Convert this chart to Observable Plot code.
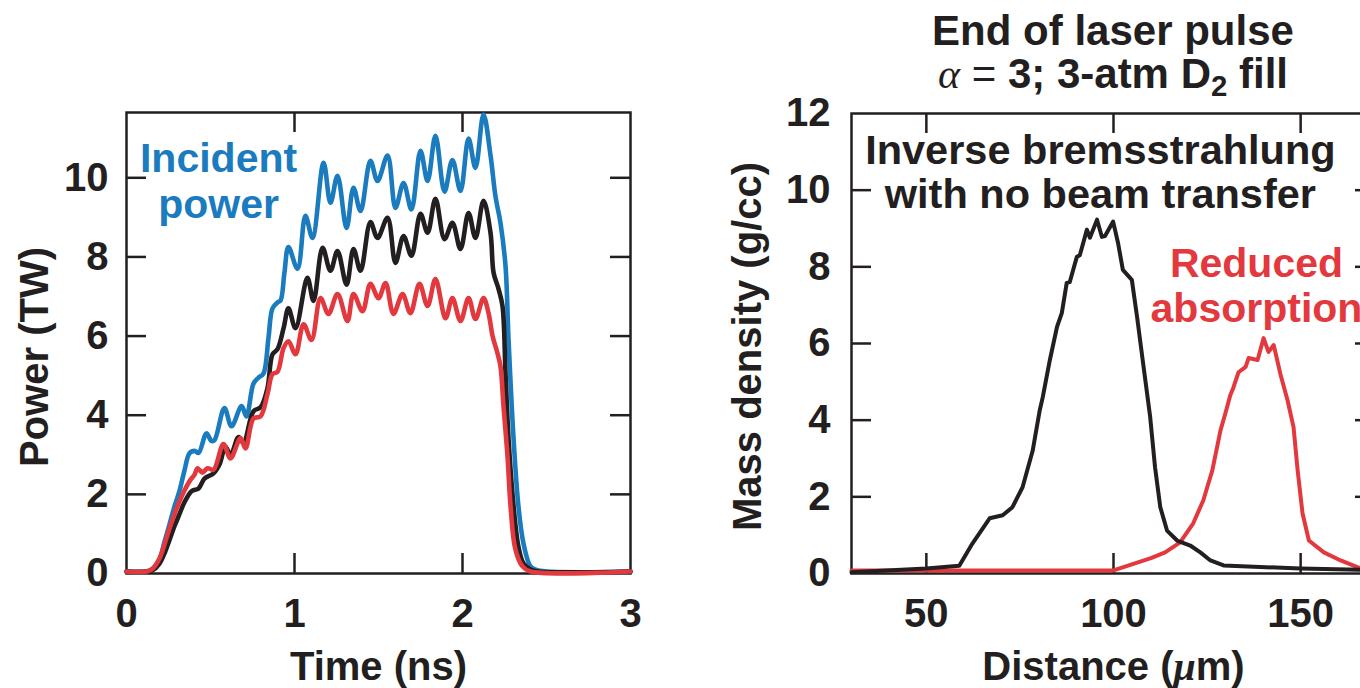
<!DOCTYPE html>
<html>
<head>
<meta charset="utf-8">
<script src="https://cdn.jsdelivr.net/npm/d3@7"></script>
<script src="https://cdn.jsdelivr.net/npm/@observablehq/plot@0.6"></script>
<style>
  html, body { margin: 0; padding: 0; background: #fff; width: 1360px; height: 688px; overflow: hidden; }
  #wrap { position: relative; width: 1360px; height: 688px; overflow: hidden; }
  #left { position: absolute; left: 0; top: 0; width: 680px; height: 688px; }
  #right { position: absolute; left: 680px; top: 0; width: 720px; height: 688px; }
  #left svg, #right svg { max-width: none !important; }
  #title { position: absolute; left: 813px; top: 9px; width: 600px; text-align: center;
           font-family: 'Liberation Sans', Arial, Helvetica, sans-serif; font-weight: bold;
           font-size: 42px; line-height: 43px; color: #231f20; }
  #title .greek { font-family: 'Liberation Serif', 'DejaVu Serif', serif; font-style: italic; font-weight: normal; }
  #title .thin { font-weight: normal; }
  #title sub { font-size: 0.7em; vertical-align: -0.28em; line-height: 0; }
</style>
</head>
<body>
<div id="wrap">
  <div id="left"></div>
  <div id="right"></div>
  <div id="title"></div>
</div>
<script>
// ---------------- Data: left panel (power vs time) ----------------
const timeIncident = [0, 0.119, 0.155, 0.196, 0.226, 0.256, 0.286, 0.315, 0.345, 0.375, 0.405, 0.429, 0.476, 0.506, 0.524, 0.583, 0.625, 0.685, 0.714, 0.756, 0.786, 0.815, 0.845, 0.869, 0.899, 0.917, 0.94, 0.964, 1.018, 1.065, 1.107, 1.173, 1.214, 1.256, 1.31, 1.351, 1.393, 1.452, 1.494, 1.554, 1.601, 1.649, 1.696, 1.75, 1.792, 1.839, 1.893, 1.94, 1.988, 2.036, 2.077, 2.125, 2.167, 2.196, 2.226, 2.256, 2.274, 2.304, 2.333, 2.363, 2.405, 2.446, 3];
const powerIncident = [0.05, 0.05, 0.12, 0.35, 0.8, 1.24, 1.7, 2.08, 2.6, 3.04, 3.1, 3.05, 3.54, 3.35, 3.37, 4.18, 3.72, 4.23, 3.97, 4.8, 4.95, 5.05, 5.95, 6.7, 6.85, 6.9, 7.6, 8.25, 7.7, 9.04, 8.48, 10.38, 9.37, 10.05, 8.73, 9.75, 9.16, 10.43, 9.92, 10.56, 9.24, 9.87, 9.2, 10.68, 9.92, 11.06, 9.65, 10.45, 9.67, 10.99, 10.25, 11.6, 10.56, 9.54, 8.86, 7.77, 5.92, 3.4, 1.7, 0.76, 0.18, 0.08, 0.05];

const timeIB = [0, 0.119, 0.155, 0.196, 0.23, 0.256, 0.286, 0.315, 0.345, 0.387, 0.429, 0.464, 0.518, 0.554, 0.589, 0.62, 0.667, 0.696, 0.756, 0.798, 0.839, 0.869, 0.899, 0.935, 0.964, 1.006, 1.077, 1.113, 1.167, 1.214, 1.256, 1.31, 1.351, 1.393, 1.452, 1.494, 1.554, 1.601, 1.649, 1.696, 1.75, 1.792, 1.839, 1.893, 1.94, 1.988, 2.036, 2.077, 2.125, 2.167, 2.185, 2.214, 2.238, 2.256, 2.274, 2.304, 2.333, 2.363, 2.405, 2.45, 3];
const powerIB = [0.05, 0.05, 0.08, 0.25, 0.55, 0.85, 1.2, 1.5, 1.8, 2.08, 2.15, 2.4, 2.53, 2.76, 3.2, 3.0, 3.45, 3.3, 4.1, 4.2, 4.68, 5.54, 5.67, 6.2, 6.7, 6.2, 7.47, 6.89, 8.23, 7.65, 8.15, 7.3, 8.2, 7.65, 8.88, 8.48, 8.99, 7.85, 8.53, 8.03, 9.09, 8.61, 9.47, 8.45, 8.86, 8.2, 9.11, 8.48, 9.42, 8.6, 7.6, 7.2, 6.76, 5.06, 3.4, 1.7, 0.68, 0.25, 0.1, 0.05, 0.05];

const timeReduced = [0, 0.119, 0.155, 0.196, 0.256, 0.315, 0.375, 0.405, 0.423, 0.452, 0.482, 0.518, 0.577, 0.619, 0.679, 0.708, 0.756, 0.798, 0.839, 0.869, 0.899, 0.935, 0.964, 1.006, 1.054, 1.101, 1.155, 1.202, 1.256, 1.315, 1.351, 1.405, 1.452, 1.5, 1.542, 1.589, 1.643, 1.69, 1.744, 1.792, 1.839, 1.899, 1.94, 1.988, 2.036, 2.077, 2.125, 2.155, 2.179, 2.208, 2.226, 2.244, 2.268, 2.286, 2.315, 2.357, 2.405, 3];
const powerReduced = [0.05, 0.05, 0.12, 0.38, 1.14, 1.82, 2.33, 2.5, 2.66, 2.55, 2.66, 2.62, 3.27, 2.91, 3.42, 3.16, 3.92, 3.97, 4.53, 5.04, 5.1, 5.7, 5.87, 5.54, 6.3, 5.9, 6.96, 6.56, 7.06, 6.38, 7.06, 6.63, 7.32, 6.96, 7.34, 6.56, 7.06, 6.58, 7.32, 6.76, 7.44, 6.45, 6.96, 6.38, 6.96, 6.43, 6.96, 6.58, 6.0, 5.57, 5.24, 4.23, 2.96, 1.7, 0.61, 0.18, 0.05, 0.05];

// ---------------- Data: right panel (mass density vs distance) ----------------
const distIB = [30, 50, 58.8, 62.3, 66.9, 70.4, 73, 75.7, 78.4, 80.3, 81.1, 83, 84.9, 86.2, 87.5, 88.3, 90.2, 91, 92.9, 93.7, 95.6, 96.9, 97.7, 99.9, 101.2, 102.5, 104.9, 106.3, 107.9, 109.8, 111.1, 112.5, 114.3, 117, 120.5, 123.2, 125.9, 129.4, 150, 166, 170];
const densityIB = [0.03, 0.13, 0.2, 0.78, 1.44, 1.52, 1.73, 2.25, 3.2, 4.26, 4.6, 5.57, 6.43, 6.8, 7.58, 7.6, 8.26, 8.3, 8.97, 8.76, 9.23, 8.78, 8.8, 9.18, 8.63, 7.92, 7.66, 6.69, 5.49, 4.08, 2.77, 1.73, 1.12, 0.86, 0.73, 0.55, 0.34, 0.21, 0.13, 0.1, 0.08];

const distReduced = [30, 100, 110, 113.8, 117.8, 121.3, 124, 126.4, 128.6, 129.9, 131.2, 132, 133.4, 135.3, 136.1, 138.5, 140.1, 141.4, 142.8, 144.6, 146.5, 148.1, 149.2, 150.5, 152.2, 156.2, 160.7, 165.3, 170];
const densityReduced = [0.08, 0.08, 0.4, 0.55, 0.81, 1.31, 1.91, 2.69, 3.74, 4.18, 4.65, 4.84, 5.25, 5.39, 5.62, 5.57, 6.14, 5.78, 5.96, 5.2, 4.52, 3.82, 2.69, 1.57, 0.86, 0.55, 0.34, 0.16, 0.08];

// ---------------- Ticks and texts ----------------
const leftXTicks = [0, 1, 2, 3];
const leftYTicks = [0, 2, 4, 6, 8, 10];
const rightXTicks = [50, 100, 150];
const rightYTicks = [0, 2, 4, 6, 8, 10, 12];

const leftXTitle = "Time (ns)";
const leftYTitle = "Power (TW)";
const rightXTitle = "Distance (\u03bcm)";
const rightYTitle = "Mass density (g/cc)";
const incidentLabel = "Incident\npower";
const ibLabel = "Inverse bremsstrahlung\nwith no beam transfer";
const reducedLabel = "Reduced\nabsorption";
const titleLine1 = "End of laser pulse";

// ---------------- Styles ----------------
const FONT = "'Liberation Sans', Arial, Helvetica, sans-serif";
const INK = "#231f20";
const BLUE = "#1a7bbf";
const RED = "#e2383e";
const TICK_LEN = 20;
const fmt = d => String(d);

function pts(xs, ys) { return xs.map((x, i) => ({x, y: ys[i]})); }

function inwardTicks(xs, ys, W, H) {
  const o = {stroke: INK, strokeWidth: 2.5};
  return [
    Plot.tickX(xs, {x: d => d, insetTop: H - TICK_LEN, ...o}),
    Plot.tickX(xs, {x: d => d, insetBottom: H - TICK_LEN, ...o}),
    Plot.tickY(ys, {y: d => d, insetRight: W - TICK_LEN, ...o}),
    Plot.tickY(ys, {y: d => d, insetLeft: W - TICK_LEN, ...o})
  ];
}

const svgStyle = {fontFamily: FONT, fontSize: "40px", fontWeight: "bold", color: INK, background: "transparent", overflow: "visible", maxWidth: "none"};

// ---------------- Left panel ----------------
const L = {w: 680, h: 688, ml: 126, mr: 50, mt: 112, mb: 115};
const LW = L.w - L.ml - L.mr, LH = L.h - L.mt - L.mb;
const leftPlot = Plot.plot({
  width: L.w, height: L.h,
  marginLeft: L.ml, marginRight: L.mr, marginTop: L.mt, marginBottom: L.mb,
  style: svgStyle,
  x: {domain: [0, 3]},
  y: {domain: [0, 11.65]},
  marks: [
    Plot.frame({stroke: INK, strokeWidth: 2.5}),
    ...inwardTicks(leftXTicks.filter(d => d > 0 && d < 3), leftYTicks.filter(d => d > 0), LW, LH),
    Plot.axisX(leftXTicks, {anchor: "bottom", tickSize: 0, tickPadding: 25, tickFormat: fmt, label: null, fontSize: 40, fontWeight: "bold", fill: INK}),
    Plot.axisY(leftYTicks, {anchor: "left", tickSize: 0, tickPadding: 18, tickFormat: fmt, label: null, fontSize: 40, fontWeight: "bold", fill: INK}),
    Plot.line(pts(timeIncident, powerIncident), {x: "x", y: "y", stroke: BLUE, strokeWidth: 4.6, curve: "catmull-rom"}),
    Plot.line(pts(timeIB, powerIB), {x: "x", y: "y", stroke: INK, strokeWidth: 4.6, curve: "catmull-rom"}),
    Plot.line(pts(timeReduced, powerReduced), {x: "x", y: "y", stroke: RED, strokeWidth: 4.6, curve: "catmull-rom"}),
    Plot.text([incidentLabel], {text: d => d, x: 0.548, y: 8.99, lineAnchor: "bottom", textAnchor: "middle", fill: BLUE, fontSize: 41, fontWeight: "bold", lineHeight: 1.12}),
    Plot.text([leftXTitle], {text: d => d, frameAnchor: "bottom", dy: 106, lineAnchor: "bottom", textAnchor: "middle", fontSize: 40, fontWeight: "bold", fill: INK}),
    Plot.text([leftYTitle], {text: d => d, frameAnchor: "left", rotate: -90, dx: -79, dy: 14, lineAnchor: "bottom", textAnchor: "middle", fontSize: 40, fontWeight: "bold", fill: INK})
  ]
});
document.getElementById("left").appendChild(leftPlot);

// ---------------- Right panel ----------------
const R = {w: 720, h: 688, ml: 171, mr: 25, mt: 113, mb: 115};
const RW = R.w - R.ml - R.mr, RH = R.h - R.mt - R.mb;
const rightPlot = Plot.plot({
  width: R.w, height: R.h,
  marginLeft: R.ml, marginRight: R.mr, marginTop: R.mt, marginBottom: R.mb,
  style: svgStyle,
  x: {domain: [30, 170]},
  y: {domain: [0, 12]},
  marks: [
    Plot.frame({stroke: INK, strokeWidth: 2.5}),
    ...inwardTicks(rightXTicks, rightYTicks.filter(d => d > 0 && d < 12), RW, RH),
    Plot.axisX(rightXTicks, {anchor: "bottom", tickSize: 0, tickPadding: 25, tickFormat: fmt, label: null, fontSize: 40, fontWeight: "bold", fill: INK}),
    Plot.axisY(rightYTicks, {anchor: "left", tickSize: 0, tickPadding: 21, tickFormat: fmt, label: null, fontSize: 40, fontWeight: "bold", fill: INK}),
    Plot.line(pts(distReduced, densityReduced), {x: "x", y: "y", stroke: RED, strokeWidth: 4}),
    Plot.line(pts(distIB, densityIB), {x: "x", y: "y", stroke: INK, strokeWidth: 4}),
    Plot.text([ibLabel], {text: d => d, x: 96.5, y: 9.54, lineAnchor: "bottom", textAnchor: "middle", fill: INK, fontSize: 41.5, fontWeight: "bold", lineHeight: 1.05}),
    Plot.text([reducedLabel], {text: d => d, x: 138.2, y: 6.56, lineAnchor: "bottom", textAnchor: "middle", fill: RED, fontSize: 41, fontWeight: "bold", lineHeight: 1.1}),
    Plot.text([rightXTitle], {text: d => d, frameAnchor: "bottom", dy: 106, lineAnchor: "bottom", textAnchor: "middle", fontSize: 40, fontWeight: "bold", fill: INK}),
    Plot.text([rightYTitle], {text: d => d, frameAnchor: "left", rotate: -90, dx: -91, dy: 3, lineAnchor: "bottom", textAnchor: "middle", fontSize: 40, fontWeight: "bold", fill: INK})
  ]
});
document.getElementById("right").appendChild(rightPlot);

// italic mu in the distance title
const NS = "http://www.w3.org/2000/svg";
rightPlot.querySelectorAll("text").forEach(t => {
  if (t.textContent === rightXTitle) {
    while (t.firstChild) t.removeChild(t.firstChild);
    t.appendChild(document.createTextNode("Distance ("));
    const mu = document.createElementNS(NS, "tspan");
    mu.setAttribute("font-style", "italic");
    mu.setAttribute("font-family", "'Liberation Serif', 'DejaVu Serif', serif");
    mu.textContent = "\u03bc";
    t.appendChild(mu);
    t.appendChild(document.createTextNode("m)"));
  }
});

// ---------------- Title (above the right panel) ----------------
const title = document.getElementById("title");
title.innerHTML = titleLine1 + '<br><span class="greek">\u03b1</span> <span class="thin">=</span> 3; 3-atm D<sub>2</sub> fill';
</script>
</body>
</html>
